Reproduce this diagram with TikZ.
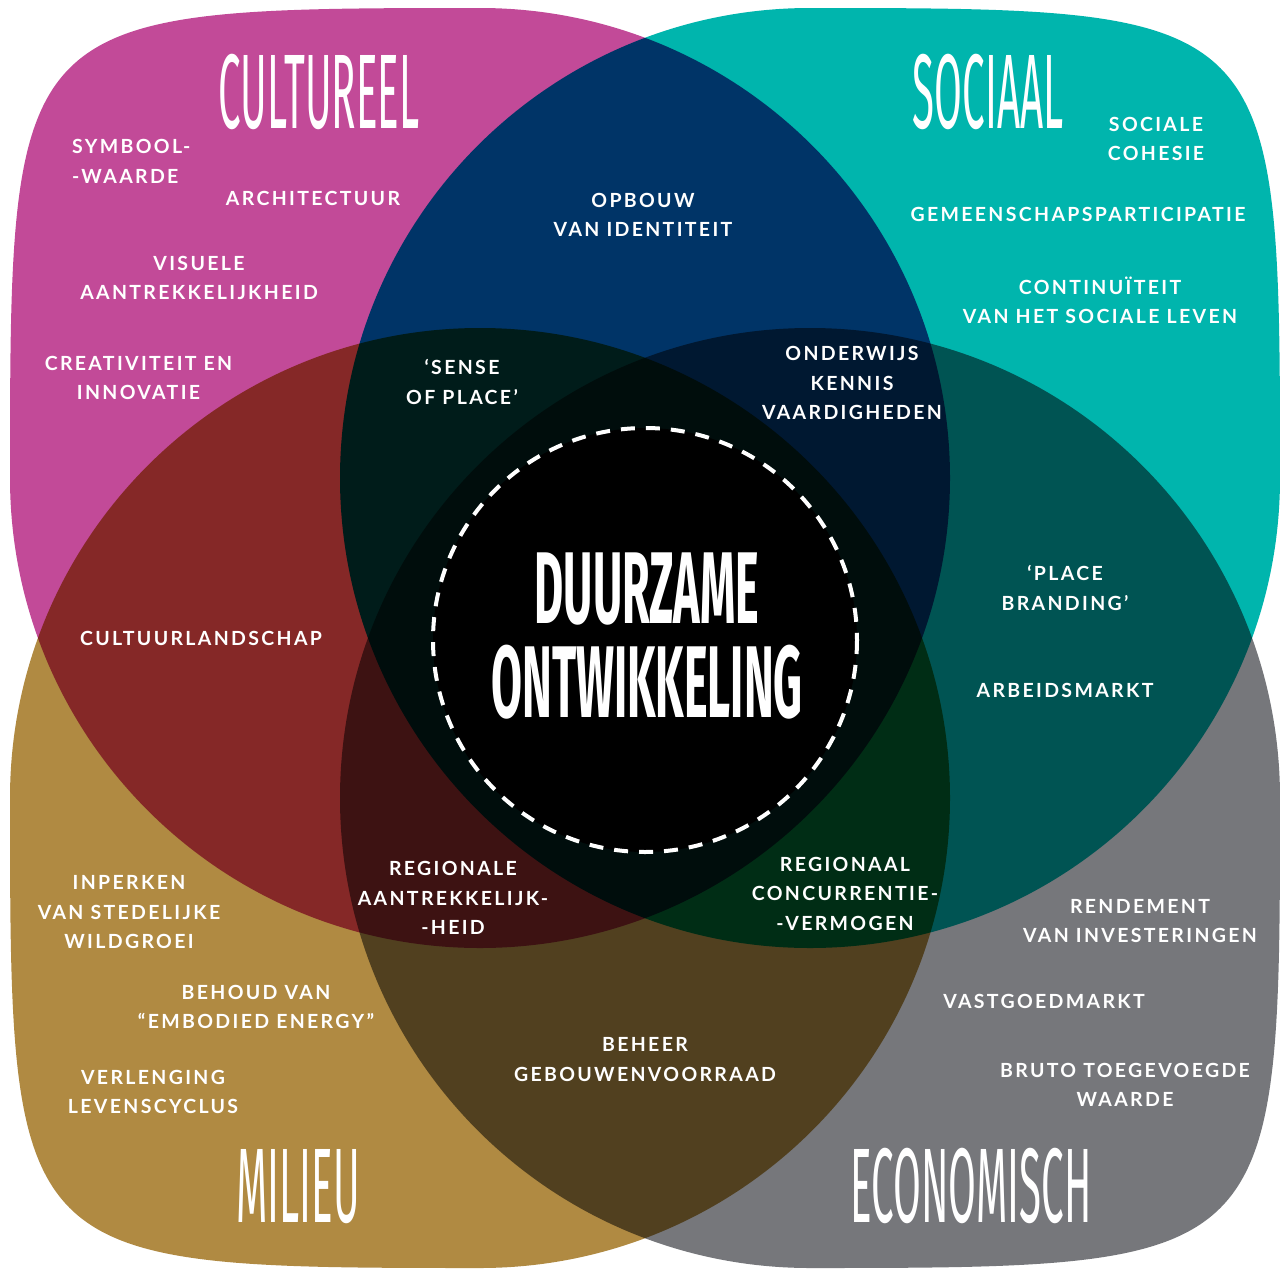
\documentclass[tikz,border=0pt]{standalone}
\usepackage{fontspec}
\newfontfamily\titlefont[FakeStretch=0.38]{Fira Sans}
\newfontfamily\kernfont[FakeStretch=0.44]{Fira Sans}
\newfontfamily\labelfont[LetterSpace=12]{Lato}

\definecolor{cultureel}{HTML}{C24A98}
\definecolor{sociaal}{HTML}{00B5AD}
\definecolor{milieu}{HTML}{B08A42}
\definecolor{economisch}{HTML}{76777B}

\begin{document}
\begin{tikzpicture}[x=1pt, y=-1pt,
	tag/.style={text=white, inner sep=0pt, align=center,
		font=\labelfont\bfseries\fontsize{19.5}{29.5}\selectfont,
		execute at begin node=\strut, execute at end node=\strut},
	heading/.style={text=white, inner sep=0pt, anchor=base,
		font=\titlefont\fontsize{106}{106}\selectfont}]

	\fill[white] (0,0) rectangle (1280,1269);
	\useasboundingbox (0,0) rectangle (1280,1269);

	\begin{scope}[blend mode=multiply]
		\fill[cultureel] (10,478) arc[start angle=180, end angle=-90, radius=470]
			.. controls (12,8) and (10,12) .. cycle;
		\fill[sociaal] (810,8) arc[start angle=-90, end angle=-360, radius=470]
			.. controls (1280,12) and (1278,8) .. cycle;
		\fill[milieu] (10,798) arc[start angle=180, end angle=450, radius=470]
			.. controls (12,1268) and (10,1264) .. cycle;
		\fill[economisch] (810,1268) arc[start angle=90, end angle=360, radius=470]
			.. controls (1280,1264) and (1278,1268) .. cycle;
	\end{scope}

	\fill[black] (645,640) circle[radius=212];
	\draw[white, line width=4pt, dash pattern=on 14pt off 11pt] (645,640) circle[radius=212];

	\node[heading] (cul) at (319,128) {CULTUREEL};
	\node[heading] (soc) at (988,128) {SOCIAAL};
	\node[heading] (mil) at (298,1222) {MILIEU};
	\node[heading] (eco) at (971,1222) {ECONOMISCH};
	\node[text=white, inner sep=0pt, align=center,
		font=\kernfont\bfseries\fontsize{102}{94}\selectfont,
		execute at begin node=\strut, execute at end node=\strut]
		(duur) at (647,649) {DUURZAME\\ONTWIKKELING};

	\node[tag, align=left, anchor=west] (symb) at (72,166) {SYMBOOL-\\-WAARDE};
	\node[tag] (arch) at (313,200) {ARCHITECTUUR};
	\node[tag] (vis) at (199,282.5) {VISUELE\\AANTREKKELIJKHEID};
	\node[tag] (crea) at (138.5,382.5) {CREATIVITEIT EN\\INNOVATIE};
	\node[tag] (cohe) at (1156,143.5) {SOCIALE\\COHESIE};
	\node[tag] (gem) at (1078,216) {GEMEENSCHAPSPARTICIPATIE};
	\node[tag] (cont) at (1100,304.5) {CONTINUÏTEIT\\VAN HET SOCIALE LEVEN};
	\node[tag] (opb) at (643,219.5) {OPBOUW\\VAN IDENTITEIT};
	\node[tag] (sense) at (462,386.5) {‘SENSE\\OF PLACE’};
	\node[tag] (ond) at (852,387.5) {ONDERWIJS\\KENNIS\\VAARDIGHEDEN};
	\node[tag] (brand) at (1065,592.5) {‘PLACE\\BRANDING’};
	\node[tag] (arb) at (1065,692) {ARBEIDSMARKT};
	\node[tag] (land) at (201,640) {CULTUURLANDSCHAP};
	\node[tag] (regm) at (453,902.5) {REGIONALE\\AANTREKKELIJK-\\-HEID};
	\node[tag] (rege) at (845,898) {REGIONAAL\\CONCURRENTIE-\\-VERMOGEN};
	\node[tag] (inp) at (129,916.5) {INPERKEN\\VAN STEDELIJKE\\WILDGROEI};
	\node[tag] (beh) at (256,1011.5) {BEHOUD VAN\\“EMBODIED ENERGY”};
	\node[tag] (verl) at (153,1096.5) {VERLENGING\\LEVENSCYCLUS};
	\node[tag] (voor) at (645,1064) {BEHEER\\GEBOUWENVOORRAAD};
	\node[tag] (rend) at (1140,925.5) {RENDEMENT\\VAN INVESTERINGEN};
	\node[tag] (vast) at (1044,1003) {VASTGOEDMARKT};
	\node[tag] (bruto) at (1125,1089.5) {BRUTO TOEGEVOEGDE\\WAARDE};
\end{tikzpicture}
\end{document}
